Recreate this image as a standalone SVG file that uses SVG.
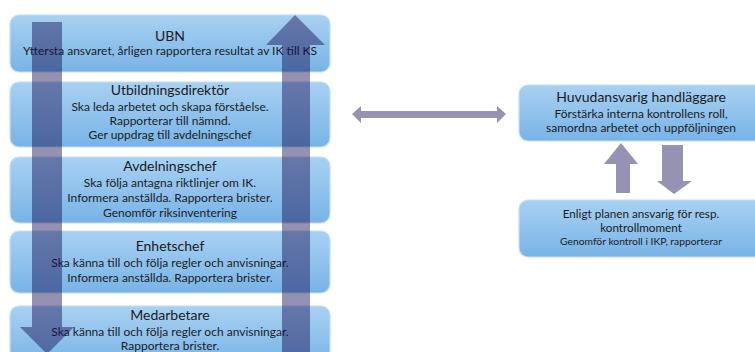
<svg xmlns="http://www.w3.org/2000/svg" width="755" height="352" viewBox="0 0 755 352">
<defs>
<linearGradient id="bg" x1="0" y1="0" x2="0" y2="1">
<stop offset="0" stop-color="#a8d1f2"/>
<stop offset="1" stop-color="#78b3e6"/>
</linearGradient>
<style>
.box{fill:url(#bg);stroke:#c4def5;stroke-width:1.2}
text{font-family:Lato,"Liberation Sans",sans-serif;fill:#1c1c1c;text-anchor:middle}
.t{font-size:14px}
.s{font-size:12px}
.r{font-size:11.7px}
.xs{font-size:10.3px}
.big{fill:#140b50;fill-opacity:0.45}
.sm{fill:#9592b3}
</style>
</defs>
<rect width="755" height="352" fill="#ffffff"/>
<g id="ubn">
<rect class="box" x="10" y="15" width="320" height="57" rx="9"/>
<text class="t" x="170" y="41">UBN</text>
<text class="s" x="170" y="55">Yttersta ansvaret, årligen rapportera resultat av IK till KS</text>
</g>
<g id="utbildningsdirektor">
<rect class="box" x="10" y="82" width="320" height="65" rx="9"/>
<text class="t" x="170" y="95">Utbildningsdirektör</text>
<text class="s" x="170" y="111">Ska leda arbetet och skapa förståelse.</text>
<text class="s" x="170" y="125">Rapporterar till nämnd.</text>
<text class="s" x="170" y="139">Ger uppdrag till avdelningschef</text>
</g>
<g id="avdelningschef">
<rect class="box" x="10" y="157" width="320" height="66" rx="9"/>
<text class="t" x="170" y="171">Avdelningschef</text>
<text class="s" x="170" y="187">Ska följa antagna riktlinjer om IK.</text>
<text class="s" x="170" y="202">Informera anställda. Rapportera brister.</text>
<text class="s" x="170" y="217">Genomför riksinventering</text>
</g>
<g id="enhetschef">
<rect class="box" x="10" y="231" width="320" height="62" rx="9"/>
<text class="t" x="170" y="251">Enhetschef</text>
<text class="s" x="170" y="267">Ska känna till och följa regler och anvisningar.</text>
<text class="s" x="170" y="282">Informera anställda. Rapportera brister.</text>
</g>
<g id="medarbetare">
<rect class="box" x="10" y="306" width="320" height="60" rx="9"/>
<text class="t" x="170" y="320">Medarbetare</text>
<text class="s" x="170" y="336">Ska känna till och följa regler och anvisningar.</text>
<text class="s" x="170" y="350">Rapportera brister.</text>
</g>
<g id="huvudansvarig">
<rect class="box" x="519" y="85" width="245" height="56" rx="9"/>
<text class="t" x="641" y="102">Huvudansvarig handläggare</text>
<text class="s" x="641" y="118">Förstärka interna kontrollens roll,</text>
<text class="s" x="641" y="132">samordna arbetet och uppföljningen</text>
</g>
<g id="enligt">
<rect class="box" x="519" y="200" width="245" height="57" rx="9"/>
<text class="r" x="641" y="218">Enligt planen ansvarig  för resp.</text>
<text class="r" x="641" y="232">kontrollmoment</text>
<text class="xs" x="641" y="245">Genomför kontroll i IKP, rapporterar</text>
</g>
<g id="connectors">
<polygon class="big" points="32,22 62,22 62,327 74,327 47,354 20,327 32,327"/>
<polygon class="big" points="295,15 325,45 310,45 310,352 282,352 282,45 266,45"/>
<polygon class="sm" points="352,114 361,106 361,111 497,111 497,106 506,114 497,123 497,118 361,118 361,123"/>
<polygon class="sm" points="621,143 638,164 630,164 630,193 616,193 616,164 604,164"/>
<polygon class="sm" points="662,145 683,145 683,181 692,181 674,194 657,181 662,181"/>
</g>
</svg>
